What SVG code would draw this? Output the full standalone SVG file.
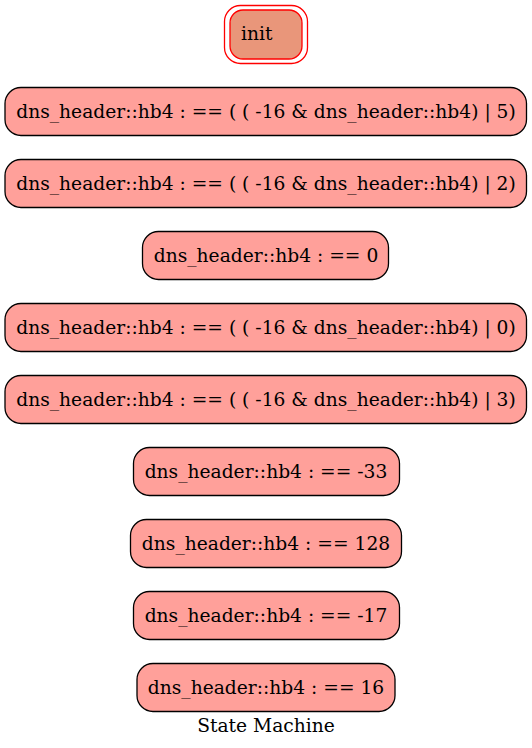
<svg xmlns="http://www.w3.org/2000/svg" width="532" height="748" viewBox="0 0 532 748">
<style>
.n{fill:#ffa09a;stroke:#000;stroke-width:1.3}
text{font-family:'DejaVu Serif',serif;font-size:18.67px;fill:#000;text-anchor:middle}
</style>
<rect width="532" height="748" fill="#fff"/>
<g id="init">
<rect x="224.5" y="5.5" width="83" height="58" rx="16" fill="none" stroke="#ff0000" stroke-width="1.3"/>
<rect x="230" y="10" width="72" height="49" rx="13" fill="#e9967a" stroke="#ff0000" stroke-width="1.3"/>
<text x="241" y="40" style="text-anchor:start">init</text>
</g>
<g id="n1"><rect class="n" x="5" y="87.5" width="521.5" height="48" rx="16"/><text x="266" y="117.5">dns_header::hb4 : == ( ( -16 &amp; dns_header::hb4) | 5)</text></g>
<g id="n2"><rect class="n" x="5" y="159.5" width="521.5" height="48" rx="16"/><text x="266" y="189.5">dns_header::hb4 : == ( ( -16 &amp; dns_header::hb4) | 2)</text></g>
<g id="n3"><rect class="n" x="142.5" y="231.5" width="246" height="48" rx="16"/><text x="266" y="261.5">dns_header::hb4 : == 0</text></g>
<g id="n4"><rect class="n" x="5" y="303.5" width="521.5" height="48" rx="16"/><text x="266" y="333.5">dns_header::hb4 : == ( ( -16 &amp; dns_header::hb4) | 0)</text></g>
<g id="n5"><rect class="n" x="5" y="375.5" width="521.5" height="48" rx="16"/><text x="266" y="405.5">dns_header::hb4 : == ( ( -16 &amp; dns_header::hb4) | 3)</text></g>
<g id="n6"><rect class="n" x="133.5" y="447.5" width="266" height="48" rx="16"/><text x="266" y="477.5">dns_header::hb4 : == -33</text></g>
<g id="n7"><rect class="n" x="130.5" y="519.5" width="271" height="48" rx="16"/><text x="266" y="549.5">dns_header::hb4 : == 128</text></g>
<g id="n8"><rect class="n" x="133.5" y="591.5" width="266" height="48" rx="16"/><text x="266" y="621.5">dns_header::hb4 : == -17</text></g>
<g id="n9"><rect class="n" x="137" y="663.5" width="258" height="48" rx="16"/><text x="266" y="693.5">dns_header::hb4 : == 16</text></g>
<g id="connectors"></g>
<text x="266" y="731.5">State Machine</text>
</svg>
